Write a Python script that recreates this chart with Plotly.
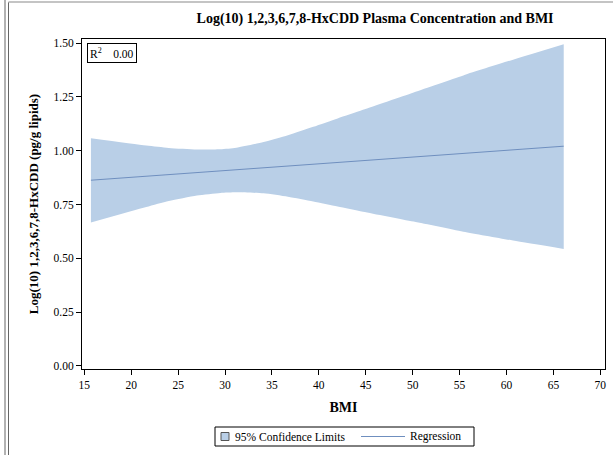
import plotly.graph_objects as go

# BMI values along the fitted band
bmi = [15.7, 21.6, 24.0, 27.0, 29.5, 31.2, 34.1, 36.7, 39.4, 42.0, 44.7, 50.1, 55.4, 60.7, 66.1]
upper_cl = [1.058, 1.024, 1.013, 1.006, 1.007, 1.014, 1.040, 1.072, 1.111, 1.150, 1.190, 1.271, 1.350, 1.423, 1.495]
lower_cl = [0.666, 0.738, 0.766, 0.792, 0.804, 0.807, 0.802, 0.786, 0.764, 0.741, 0.717, 0.671, 0.624, 0.583, 0.544]

# Regression line end points
reg_bmi = [15.7, 66.1]
reg_fit = [0.863, 1.021]

r_squared = "0.00"
legend_labels = ["95% Confidence Limits", "Regression"]

FONT = "Liberation Serif, Times New Roman, serif"
BAND = "#b9cfe7"
LINE = "#6f8fbf"

# plot area in pixels
L, R, T, B = 82, 605, 39, 369
W, H = R - L, B - T


def px(xp):
    return (xp - L) / W


def py(yp):
    return (B - yp) / H


fig = go.Figure()
fig.add_trace(go.Scatter(
    x=bmi, y=lower_cl, mode="lines", line=dict(width=0, shape="spline", smoothing=0.6),
    showlegend=False, hoverinfo="skip"))
fig.add_trace(go.Scatter(
    x=bmi, y=upper_cl, mode="lines", fill="tonexty", fillcolor=BAND,
    line=dict(width=0, shape="spline", smoothing=0.6),
    name=legend_labels[0], showlegend=False))
fig.add_trace(go.Scatter(
    x=reg_bmi, y=reg_fit, mode="lines", line=dict(color=LINE, width=1),
    name=legend_labels[1], showlegend=False))

axis_common = dict(
    showgrid=False, zeroline=False, showline=True, linecolor="black", linewidth=1,
    mirror=True, ticks="outside", ticklen=5, tickcolor="black", tickwidth=1,
    tickfont=dict(family=FONT, size=11.5, color="black"), automargin=False,
)

fig.update_layout(
    width=613, height=455,
    margin=dict(l=L, r=613 - R, t=T, b=455 - B),
    paper_bgcolor="white", plot_bgcolor="white",
    font=dict(family=FONT, color="black"),
    showlegend=False,
    title=dict(
        text="<b>Log(10) 1,2,3,6,7,8-HxCDD Plasma Concentration and BMI</b>",
        font=dict(family=FONT, size=14, color="black"),
        x=(L + R) / 2 / 613, xanchor="center", xref="paper",
        y=1 - 18 / 455, yanchor="middle", yref="container"),
    xaxis=dict(
        **axis_common, range=[14.75, 70.5], tick0=15, dtick=5,
        title=dict(text="<b>BMI</b>", font=dict(family=FONT, size=14), standoff=12)),
    yaxis=dict(
        **axis_common, range=[-0.014, 1.519], tick0=0, dtick=0.25, tickformat=".2f",
        title=dict(text="<b>Log(10) 1,2,3,6,7,8-HxCDD (pg/g lipids)</b>",
                   font=dict(family=FONT, size=13), standoff=12)),
)

# R-squared inset box
fig.add_annotation(
    xref="paper", yref="paper", x=0.01, y=0.988, xanchor="left", yanchor="top",
    text="R<sup>2</sup>    " + r_squared, showarrow=False,
    font=dict(family=FONT, size=11.5, color="black"),
    bordercolor="black", borderwidth=1, borderpad=2, bgcolor="white", align="left")

# Legend drawn below the axis
fig.add_shape(type="rect", xref="paper", yref="paper",
              x0=px(215), x1=px(474), y0=py(446), y1=py(427),
              line=dict(color="black", width=1), fillcolor="white")
fig.add_shape(type="rect", xref="paper", yref="paper",
              x0=px(221), x1=px(229), y0=py(440.5), y1=py(432.5),
              line=dict(color="#555555", width=1), fillcolor=BAND)
fig.add_annotation(xref="paper", yref="paper", x=px(233), y=py(436.5),
                   xanchor="left", yanchor="middle", showarrow=False,
                   text=legend_labels[0], font=dict(family=FONT, size=11.5, color="black"))
fig.add_shape(type="line", xref="paper", yref="paper",
              x0=px(361), x1=px(405), y0=py(436.5), y1=py(436.5),
              line=dict(color=LINE, width=1))
fig.add_annotation(xref="paper", yref="paper", x=px(408), y=py(436.5),
                   xanchor="left", yanchor="middle", showarrow=False,
                   text=legend_labels[1], font=dict(family=FONT, size=11.5, color="black"))

# Page frame lines around the figure
fig.add_shape(type="line", xref="paper", yref="paper", x0=px(5), x1=px(5), y0=py(455), y1=py(0),
              line=dict(color="#666666", width=1))
fig.add_shape(type="line", xref="paper", yref="paper", x0=px(8.5), x1=px(8.5), y0=py(455), y1=py(2),
              line=dict(color="#666666", width=1))
fig.add_shape(type="line", xref="paper", yref="paper", x0=px(8.5), x1=px(613), y0=py(2), y1=py(2),
              line=dict(color="#c4c4c4", width=2))

fig.write_html("out.html")
